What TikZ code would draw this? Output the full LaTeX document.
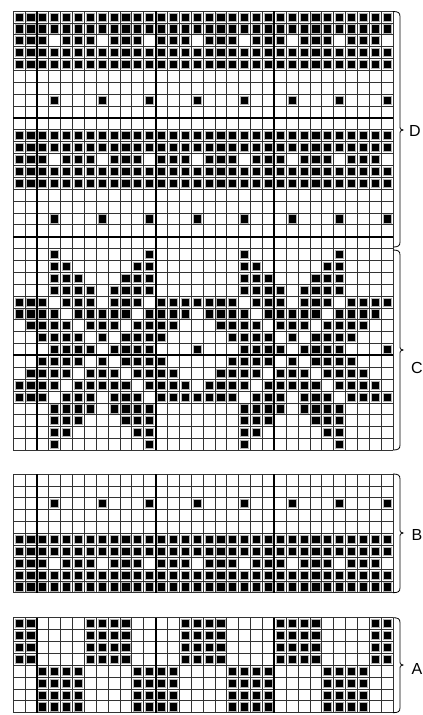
\documentclass[tikz,border=0pt]{standalone}
\usepackage{fontspec}
\setmainfont{Liberation Sans}
\usepackage{tikz}
\tikzset{
  gl/.style={line width=0.55pt,black!80},
  thk/.style={line width=1.5pt},
  st/.style={fill=black,draw=black!30,line width=0.5pt},
  brc/.style={line width=0.6pt},
  lbl/.style={font=\fontsize{12}{14}\selectfont,inner sep=0pt}
}
\newcommand{\cw}{11.875}
\newcommand{\stc}[3]{\filldraw[st] ({13+\cw*(#1)+1.9},{#2+\cw*(#3)+1.9}) rectangle ++(8.1,8.1);}
\newcommand{\chgrid}[2]{\foreach \c in {0,...,32} {\draw[gl] ({13+\cw*\c},#1) -- ++(0,{\cw*#2});}
  \foreach \r in {0,...,#2} {\draw[gl] (13,{#1+\cw*\r}) -- ++(380,0);}}
\newcommand{\band}[2]{\foreach \r in {0,1,3,4} {\foreach \c in {0,...,31} {\stc{\c}{#1}{#2+\r}}}
  \foreach \a in {0,4,...,28} {\foreach \b in {0,1,2} {\stc{\a+\b}{#1}{#2+2}}}}
\newcommand{\dotrow}[2]{\foreach \c in {3,7,...,31} {\stc{\c}{#1}{#2}}}
\newcommand{\chbrace}[3]{\draw[brc] (393,#1) .. controls (398,#1) and (400,{#1+1}) .. (400,{#1+5}) -- (400,{#3-3})
  .. controls (400,{#3-1}) .. (403,#3) .. controls (400,{#3+1}) .. (400,{#3+3}) -- (400,{#2-5})
  .. controls (400,{#2-1}) and (398,#2) .. (393,#2);}

\begin{document}
\begin{tikzpicture}[x=0.75pt,y=-0.75pt]
\useasboundingbox[fill=white] (0,0) rectangle (422,715);
\chgrid{11}{37}
\chgrid{474}{10}
\chgrid{617.7}{8}
\band{11}{0} \dotrow{11}{7} \band{11}{10} \dotrow{11}{17}
\foreach \ra/\rb/\cs in {0/16/{3,11},1/15/{3,4,10,11},2/14/{3,4,5,9,10,11},3/13/{3,4,5,6,8,9,10,11},
  4/12/{0,1,2,4,5,6,8,9,10,12,13,14,15},5/11/{0,1,2,3,5,6,7,8,9,11,12,13,14},
  6/10/{1,2,3,4,6,7,8,10,11,12,13},7/9/{2,3,4,5,7,9,10,11,12},8/8/{3,4,5,6,8,9,10,11,15}}
  {\foreach \c in \cs {\foreach \k in {0,16} {\stc{\c+\k}{11}{20+\ra}\stc{\c+\k}{11}{20+\rb}}}}
\dotrow{474}{2} \band{474}{5}
\foreach \a in {0,8,16,24} {
  \foreach \b in {0,1,6,7} {\foreach \r in {0,...,3} {\stc{\a+\b}{617.7}{\r}}}
  \foreach \b in {2,3,4,5} {\foreach \r in {4,...,7} {\stc{\a+\b}{617.7}{\r}}}}
\foreach \y in {9,19,29} {\draw[thk] (13,{11+\cw*\y}) -- ++(380,0);}
\foreach \c in {2,12,22} {
  \draw[thk] ({13+\cw*\c},11) -- ++(0,{37*\cw});
  \draw[thk] ({13+\cw*\c},474) -- ++(0,{10*\cw});
  \draw[thk] ({13+\cw*\c},617.7) -- ++(0,{8*\cw});}
\chbrace{11.5}{247}{130}
\chbrace{250}{450}{350}
\chbrace{474}{592.7}{533}
\chbrace{617.7}{712.7}{665}
\node[lbl] (labD) at (415,131) {D};
\node[lbl] (labC) at (417,368) {C};
\node[lbl] (labB) at (417,535) {B};
\node[lbl] (labA) at (417,669) {A};
\end{tikzpicture}
\end{document}
